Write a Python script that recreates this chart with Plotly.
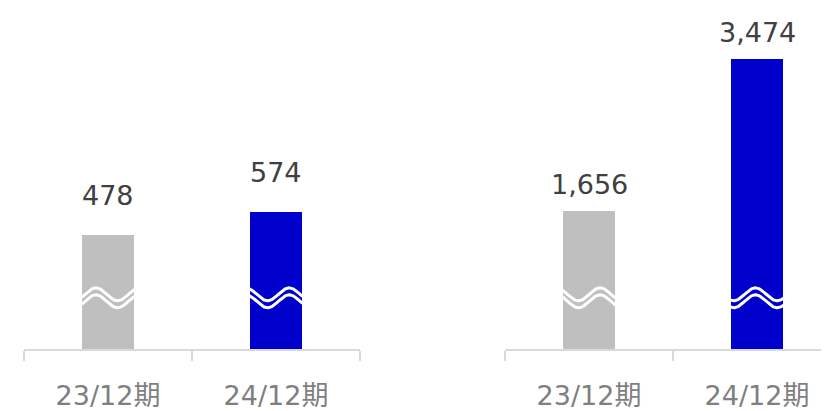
"""
plot.py - two broken-axis bar panels (23/12期 vs 24/12期)
"""

import numpy as np
import plotly.graph_objects as go

# --- data ---
categories = ["23/12期", "24/12期"]
left_values = [478, 574]
right_values = [1656, 3474]
bar_colors = ["#bfbfbf", "#0000cc"]

# --- styling ---
FONT = "DejaVu Sans, Noto Sans CJK JP, sans-serif"
# the page body has an 8px margin, so the figure is drawn 8px smaller
W, H = 821, 403
PLOT_H = 343            # pixel height of plot area (baseline)
BAR_W = 0.315
LEFT_YMAX = 1432        # axis range top so bars land at the same heights
RIGHT_YMAX = 4083
wave_trough = [[0.68, 0.34], [0.30, 0.06]]   # where the wavy break dips, per bar
WAVE_PERIOD = 0.82
WAVE_AMP_PX = 6.5
WAVE_UPPER_PX = 55      # px above baseline
WAVE_LOWER_PX = 48

fig = go.Figure()

panels = [
    ("x", "y", left_values, LEFT_YMAX, 22),
    ("x2", "y2", right_values, RIGHT_YMAX, 9),
]

for p, (xa, ya, values, ymax, label_shift) in enumerate(panels):
    fig.add_trace(go.Bar(
        x=[0, 1], y=values, width=BAR_W,
        marker=dict(color=bar_colors, line=dict(width=0)),
        xaxis=xa, yaxis=ya, hoverinfo="skip", showlegend=False,
    ))

    # wavy break marks (white double line) on each bar
    per_px = ymax / PLOT_H
    for i in range(len(values)):
        t = np.linspace(0, 1, 80)
        xs = i - BAR_W / 2 + t * BAR_W
        wave = -np.cos(2 * np.pi * (t - wave_trough[p][i]) / WAVE_PERIOD)
        for off in (WAVE_UPPER_PX, WAVE_LOWER_PX):
            ys = (off + WAVE_AMP_PX * wave) * per_px
            fig.add_trace(go.Scatter(
                x=xs, y=ys, mode="lines",
                line=dict(color="white", width=3),
                xaxis=xa, yaxis=ya, hoverinfo="skip", showlegend=False,
            ))

    # value labels
    for i, v in enumerate(values):
        fig.add_annotation(
            x=i, y=v, xref=xa, yref=ya, text=f"{v:,}",
            showarrow=False, yanchor="bottom", yshift=label_shift,
            font=dict(family=FONT, size=27, color="#404040"),
        )

xaxis_common = dict(
    tickvals=[0, 1], ticktext=categories, ticks="",
    showline=True, linecolor="#d9d9d9", linewidth=1.5,
    showgrid=False, zeroline=False, fixedrange=True,
    tickfont=dict(family=FONT, size=27, color="#7f7f7f"),
    ticklabelstandoff=22,
    minor=dict(tickvals=[-0.5, 0.5, 1.5], ticks="outside", ticklen=10,
               tickcolor="#d9d9d9", tickwidth=1.5, showgrid=False),
)
yaxis_common = dict(visible=False, showgrid=False, zeroline=False, fixedrange=True)

left_px = (16, 352)
right_px = (497, W)
px_per_unit = (left_px[1] - left_px[0]) / 2

fig.update_layout(
    width=W, height=H,
    margin=dict(l=0, r=0, t=0, b=H - PLOT_H),
    paper_bgcolor="white", plot_bgcolor="white",
    bargap=0,
    xaxis=dict(xaxis_common, domain=[left_px[0] / W, left_px[1] / W],
               range=[-0.5, 1.5], anchor="y"),
    xaxis2=dict(xaxis_common, domain=[right_px[0] / W, 1.0],
                range=[-0.5, -0.5 + (right_px[1] - right_px[0]) / px_per_unit],
                anchor="y2"),
    yaxis=dict(yaxis_common, range=[0, LEFT_YMAX], anchor="x"),
    yaxis2=dict(yaxis_common, range=[0, RIGHT_YMAX], anchor="x2"),
)

fig.write_html("out.html")
